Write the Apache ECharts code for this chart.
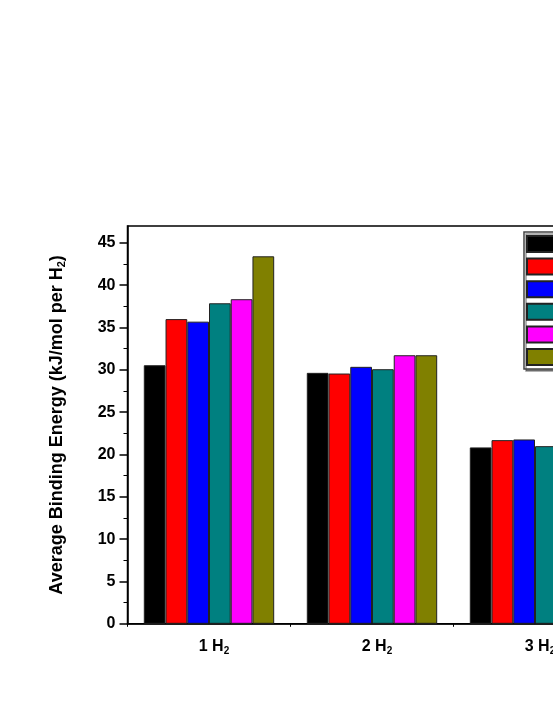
<!DOCTYPE html>
<html>
<head>
<meta charset="utf-8">
<script src="https://cdn.jsdelivr.net/npm/echarts@6/dist/echarts.min.js"></script>
<style>
html,body{margin:0;padding:0;overflow:hidden;background:#fff;width:553px;height:715px;}
#c{width:720px;height:715px;}
</style>
</head>
<body>
<div id="c"></div>
<script>
const categories = ['1 H{sub|2}', '2 H{sub|2}', '3 H{sub|2}'];
const seriesNames = ['Set 1', 'Set 2', 'Set 3', 'Set 4', 'Set 5', 'Set 6'];
const s1 = [30.55, 29.65, 20.84];
const s2 = [36.0, 29.57, 21.7];
const s3 = [35.7, 30.36, 21.78];
const s4 = [37.87, 30.08, 20.99];
const s5 = [38.35, 31.73, 21.5];
const s6 = [43.42, 31.73, 22.4];
const yMajorTicks = [0, 5, 10, 15, 20, 25, 30, 35, 40, 45];
const yMinorTicks = [2.5, 7.5, 12.5, 17.5, 22.5, 27.5, 32.5, 37.5, 42.5];

const colors = ['#000000', '#ff0000', '#0000ff', '#008080', '#ff00ff', '#808000'];
const allData = [s1, s2, s3, s4, s5, s6];
const FONT = "'Liberation Sans', Arial, sans-serif";

const chart = echarts.init(document.getElementById('c'));
chart.setOption({
  animation: false,
  backgroundColor: '#fff',
  textStyle: { fontFamily: FONT },
  grid: { left: 127.5, top: 226, right: 103.5, bottom: 91.2, show: true, borderColor: '#000', borderWidth: 1.5, containLabel: false },
  legend: {
    orient: 'vertical',
    left: 524, top: 232,
    padding: [3, 4, 3, 2],
    icon: 'rect',
    itemWidth: 30, itemHeight: 16, itemGap: 4.6,
    borderColor: '#444', borderWidth: 1.5,
    shadowColor: 'rgba(0,0,0,0.4)', shadowOffsetX: 2, shadowOffsetY: 2,
    backgroundColor: '#fff',
    textStyle: { fontFamily: FONT, fontSize: 12, lineHeight: 16, fontWeight: 'bold', color: '#000' },
    data: seriesNames
  },
  xAxis: [{
    type: 'category',
    data: categories,
    axisLine: { lineStyle: { color: '#000', width: 1.5 } },
    axisTick: { alignWithLabel: true, length: 7, lineStyle: { color: '#000', width: 1.5 } },
    axisLabel: {
      margin: 14, color: '#000', fontFamily: FONT, fontSize: 16, fontWeight: 'bold',
      padding: [0, 0, 0, 10],
      rich: { sub: { fontSize: 10, fontWeight: 'bold', fontFamily: FONT, verticalAlign: 'bottom', padding: [8, 0, 0, 0] } }
    }
  }, {
    type: 'category',
    data: categories,
    position: 'bottom',
    axisLine: { show: false },
    axisTick: { show: true, alignWithLabel: false, length: 3, lineStyle: { color: '#000', width: 1 } },
    axisLabel: { show: false }
  }],
  yAxis: [{
    type: 'value',
    min: 0, max: 47,
    name: 'Average Binding Energy (kJ/mol per H{sub|2})',
    nameLocation: 'middle',
    nameGap: 60,
    nameRotate: 90,
    nameTextStyle: {
      color: '#000', fontFamily: FONT, fontSize: 18, fontWeight: 'bold',
      rich: { sub: { fontSize: 11, fontWeight: 'bold', fontFamily: FONT, padding: [9, 0, 0, 0], verticalAlign: 'bottom' } }
    },
    splitLine: { show: false },
    axisLine: { show: true, lineStyle: { color: '#000', width: 1.5 } },
    axisTick: { show: true, length: 8, customValues: yMajorTicks, lineStyle: { color: '#000', width: 1.5 } },
    axisLabel: { customValues: yMajorTicks, margin: 12, color: '#000', fontFamily: FONT, fontSize: 16, fontWeight: 'bold' }
  }, {
    type: 'value',
    min: 0, max: 47,
    position: 'left',
    splitLine: { show: false },
    axisLine: { show: false },
    axisTick: { show: true, length: 4, customValues: yMinorTicks, lineStyle: { color: '#000', width: 1 } },
    axisLabel: { show: false }
  }],
  series: seriesNames.map((n, i) => ({
    name: n,
    type: 'bar',
    data: allData[i],
    barGap: '0%',
    barCategoryGap: '20%',
    itemStyle: { color: colors[i], borderColor: '#222', borderWidth: 1 }
  }))
});
</script>
</body>
</html>
